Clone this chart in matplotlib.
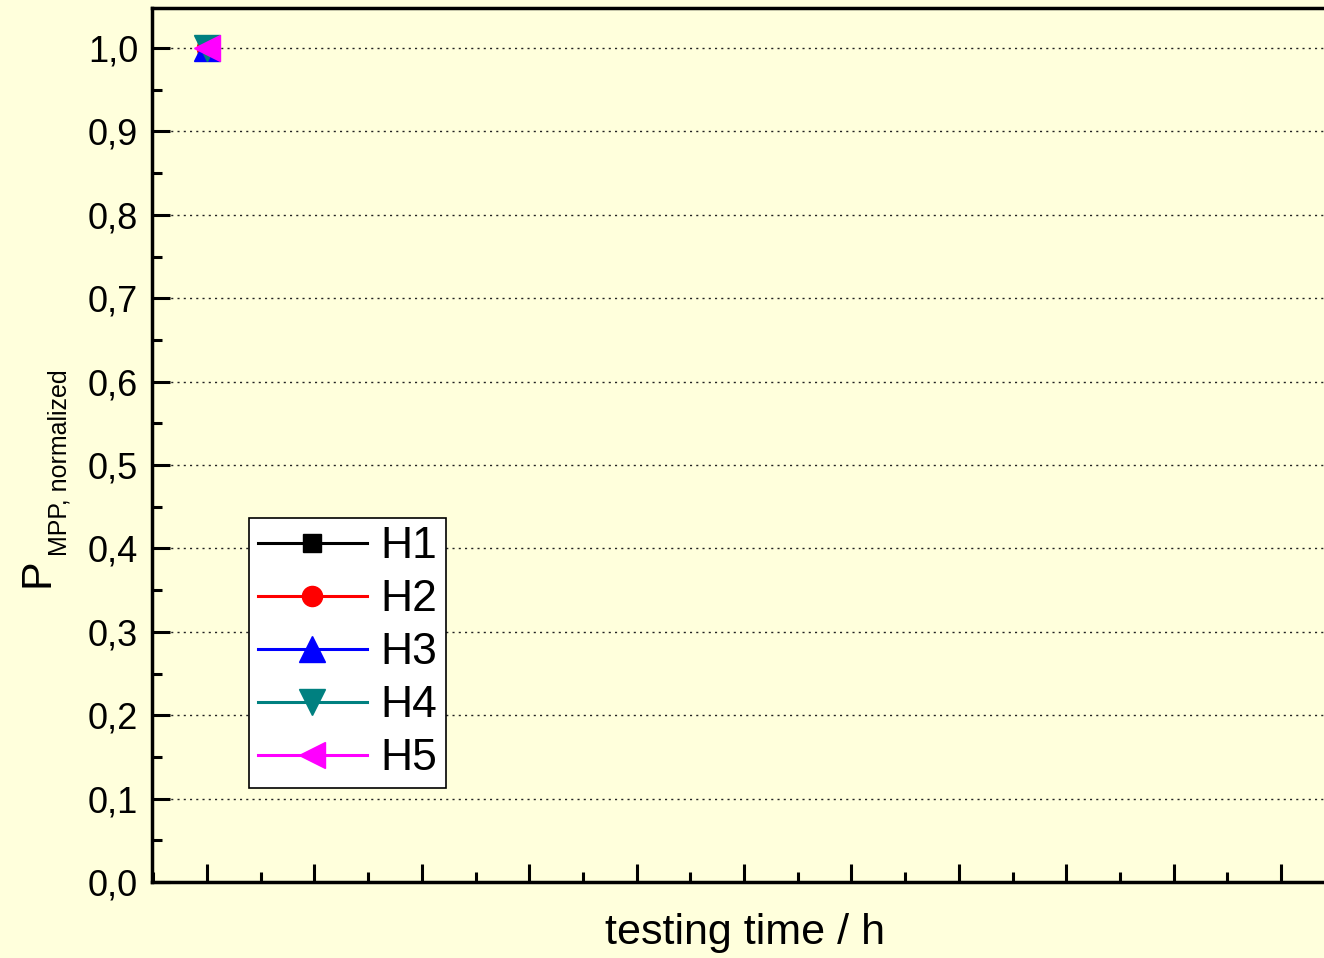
import numpy as np
import matplotlib
matplotlib.use("Agg")
from matplotlib import pyplot as plt
from matplotlib.ticker import MultipleLocator, FuncFormatter

plt.rcParams['font.family'] = ['Liberation Sans', 'DejaVu Sans']

# data: every sample starts at t = 0 with normalized power 1.0
labels = ['H1', 'H2', 'H3', 'H4', 'H5']
time_h = [[0], [0], [0], [0], [0]]
p_norm = [[1.0], [1.0], [1.0], [1.0], [1.0]]
colors = ['black', 'red', 'blue', '#008080', 'magenta']
markers = ['s', 'o', '^', 'v', '<']
msizes = [13, 14.5, 19, 19, 19]

bg = '#ffffdc'
W, H = 1324, 958
fig = plt.figure(figsize=(W / 100, H / 100), dpi=100, facecolor=bg)
ax = fig.add_axes([152 / W, 76 / H, 1172 / W, 874 / H], facecolor=bg)

for t, p, c, m, ms, lab in zip(time_h, p_norm, colors, markers, msizes, labels):
    ax.plot(t, p, color=c, marker=m, markersize=ms, linewidth=2.2, label=lab)

ax.set_xlim(-51.2, 1040)
ax.set_ylim(0, 1.048)
ax.xaxis.set_major_locator(MultipleLocator(100))
ax.xaxis.set_minor_locator(MultipleLocator(50))
ax.yaxis.set_major_locator(MultipleLocator(0.1))
ax.yaxis.set_minor_locator(MultipleLocator(0.05))
ax.yaxis.set_major_formatter(FuncFormatter(lambda v, pos: f'{v:.1f}'.replace('.', ',')))
ax.tick_params(axis='x', which='both', labelbottom=False)
ax.tick_params(which='major', direction='in', length=13, width=2.2, labelsize=26, pad=10)
ax.tick_params(which='minor', direction='in', length=7, width=2.2)

ax.grid(axis='y', which='major', linestyle=(0, (1.5, 3)), color='#222222', linewidth=1)
ax.set_axisbelow(True)

for side in ['left', 'bottom', 'top']:
    ax.spines[side].set_linewidth(2.5)
ax.spines['right'].set_visible(False)

ax.set_xlabel('testing time / h', fontsize=31)
ax.xaxis.set_label_coords(0.506, -0.035)

# y label: large P with smaller subscript
fig.text(48 / W, 1 - 587 / H, 'P', fontsize=31, rotation=90, rotation_mode='anchor',
         ha='left', va='baseline')
fig.text(66 / W, 1 - 556 / H, 'MPP, normalized', fontsize=18, rotation=90,
         rotation_mode='anchor', ha='left', va='baseline')

leg = ax.legend(loc='upper left', bbox_to_anchor=(0.0828, 0.417), borderaxespad=0,
                fontsize=32, frameon=True, fancybox=False, edgecolor='black',
                facecolor='white', framealpha=1, handlelength=2.45, labelspacing=0.27,
                handletextpad=0.3, borderpad=0.2)
leg.get_frame().set_linewidth(1.2)

fig.savefig('out.png', dpi=100, facecolor=bg)
